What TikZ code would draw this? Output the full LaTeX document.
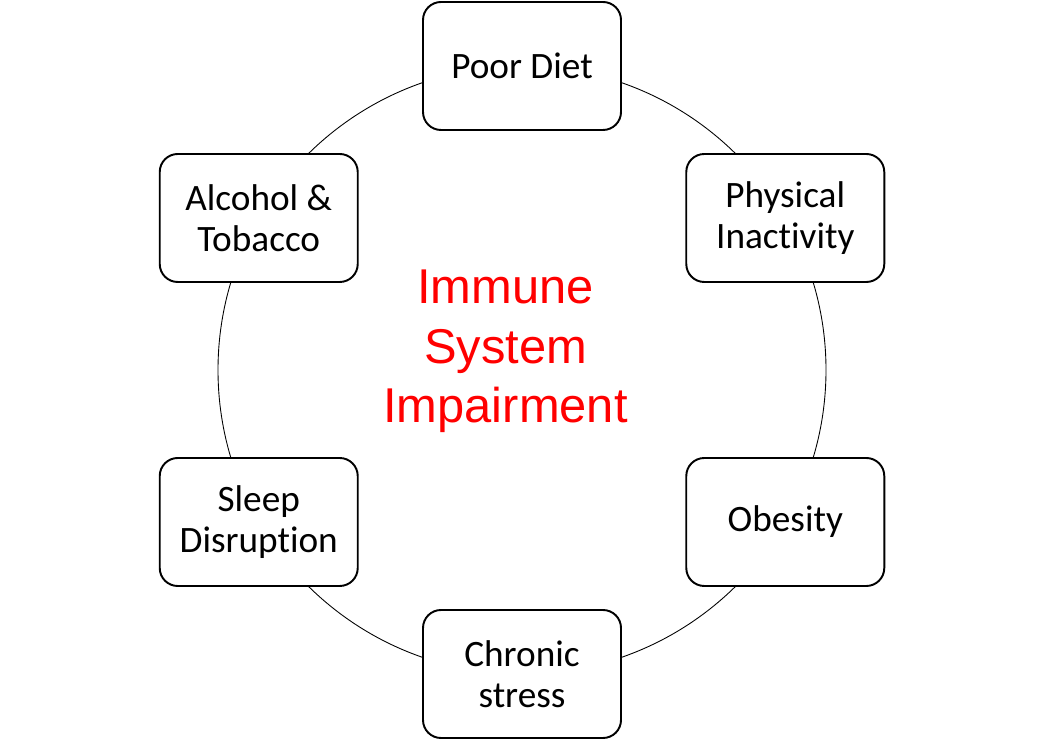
\documentclass[tikz,border=0pt]{standalone}
\usepackage{fontspec}
\setmainfont{Carlito}[Ligatures=NoCommon,RawFeature={-liga;-clig;-calt}]
\newfontfamily\redfont{Liberation Sans}
\usepackage{tikz}

\begin{document}
\begin{tikzpicture}[
    factor/.style={rectangle,draw=black,fill=white,line width=1.1pt,rounded corners=0.36cm,
        minimum width=3.96cm,minimum height=2.56cm,align=center,
        font=\fontsize{21.2}{23.3}\selectfont},
    ring/.style={draw=black,line width=0.5pt},
    centre/.style={text=red,align=center,font=\redfont\fontsize{27.8}{34}\selectfont},
]
\useasboundingbox (0,0) rectangle (20.9,14.78);
\coordinate (c) at (10.44,7.38);

\draw[ring] (c) circle (6.08cm);

\node[centre] (isi) at ([shift={(-0.33cm,0.37cm)}]c) {Immune\\System\\Impairment};

\node[factor] (diet)   at ([shift={(90:6.08cm)}]c)  {Poor Diet};
\node[factor] (inact)  at ([shift={(30:6.08cm)}]c)  {Physical\\Inactivity};
\node[factor] (obes)   at ([shift={(-30:6.08cm)}]c) {Obesity};
\node[factor] (stress) at ([shift={(-90:6.08cm)}]c) {Chronic\\stress};
\node[factor] (sleep)  at ([shift={(210:6.08cm)}]c) {Sleep\\Disruption};
\node[factor] (alc)    at ([shift={(150:6.08cm)}]c) {Alcohol \&\\Tobacco};
\end{tikzpicture}
\end{document}
